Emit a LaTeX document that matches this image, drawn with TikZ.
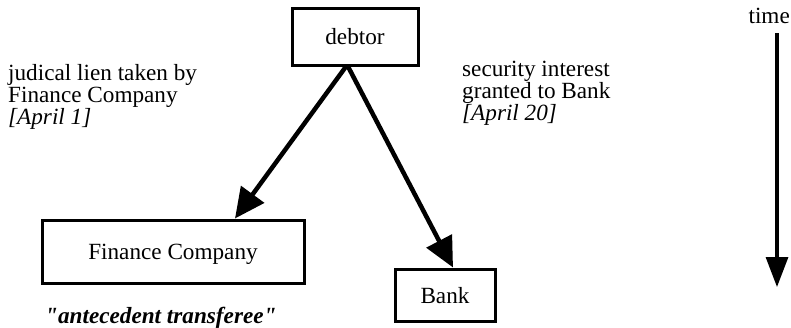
\documentclass[tikz,border=0pt]{standalone}
\usepackage{fontspec}
\setmainfont{Liberation Serif}
\usetikzlibrary{arrows.meta,calc}
\begin{document}
\begin{tikzpicture}[x=1pt,y=-1pt,
  txt/.style={font=\fontsize{23.2}{22}\selectfont, inner sep=0pt},
  box/.style={draw, line width=3pt, txt, text depth=0pt},
  rel/.style={line width=4.5pt, -{Triangle[length=30pt,width=28pt]}},
  timearrow/.style={line width=3.2pt, -{Triangle[length=30pt,width=22pt]}}]
\useasboundingbox (0,0) rectangle (791,327);
\node[box, minimum width=126pt, minimum height=57pt] (debtor) at (355,36.5) {debtor};
\node[box, minimum width=262pt, minimum height=63pt] (fin) at (173,251.5) {Finance Company};
\node[box, minimum width=100pt, minimum height=52pt] (bank) at (445,295) {Bank};
\node[txt, align=left, anchor=north west] (lien) at (8,64)
  {judical lien taken by\\Finance Company\\\textit{[April 1]}};
\node[txt, align=left, anchor=north west] (sec) at (462,61)
  {security interest\\granted to Bank\\\textit{[April 20]}};
\node[txt, anchor=base west] (ante) at (45,323) {\textbf{\textit{\textquotedbl antecedent transferee\textquotedbl}}};
\node[txt, anchor=base east] (time) at (790,23) {time};
\coordinate (t1) at (777,33);
\coordinate (t2) at (777,287);
\draw[rel] ($(debtor.south)+(-9,0)$) -- ($(fin.north)+(62,0)$);
\draw[rel] ($(debtor.south)+(-7,0)$) -- ($(bank.north)+(8,0)$);
\draw[timearrow] (t1) -- (t2);
\end{tikzpicture}
\end{document}
